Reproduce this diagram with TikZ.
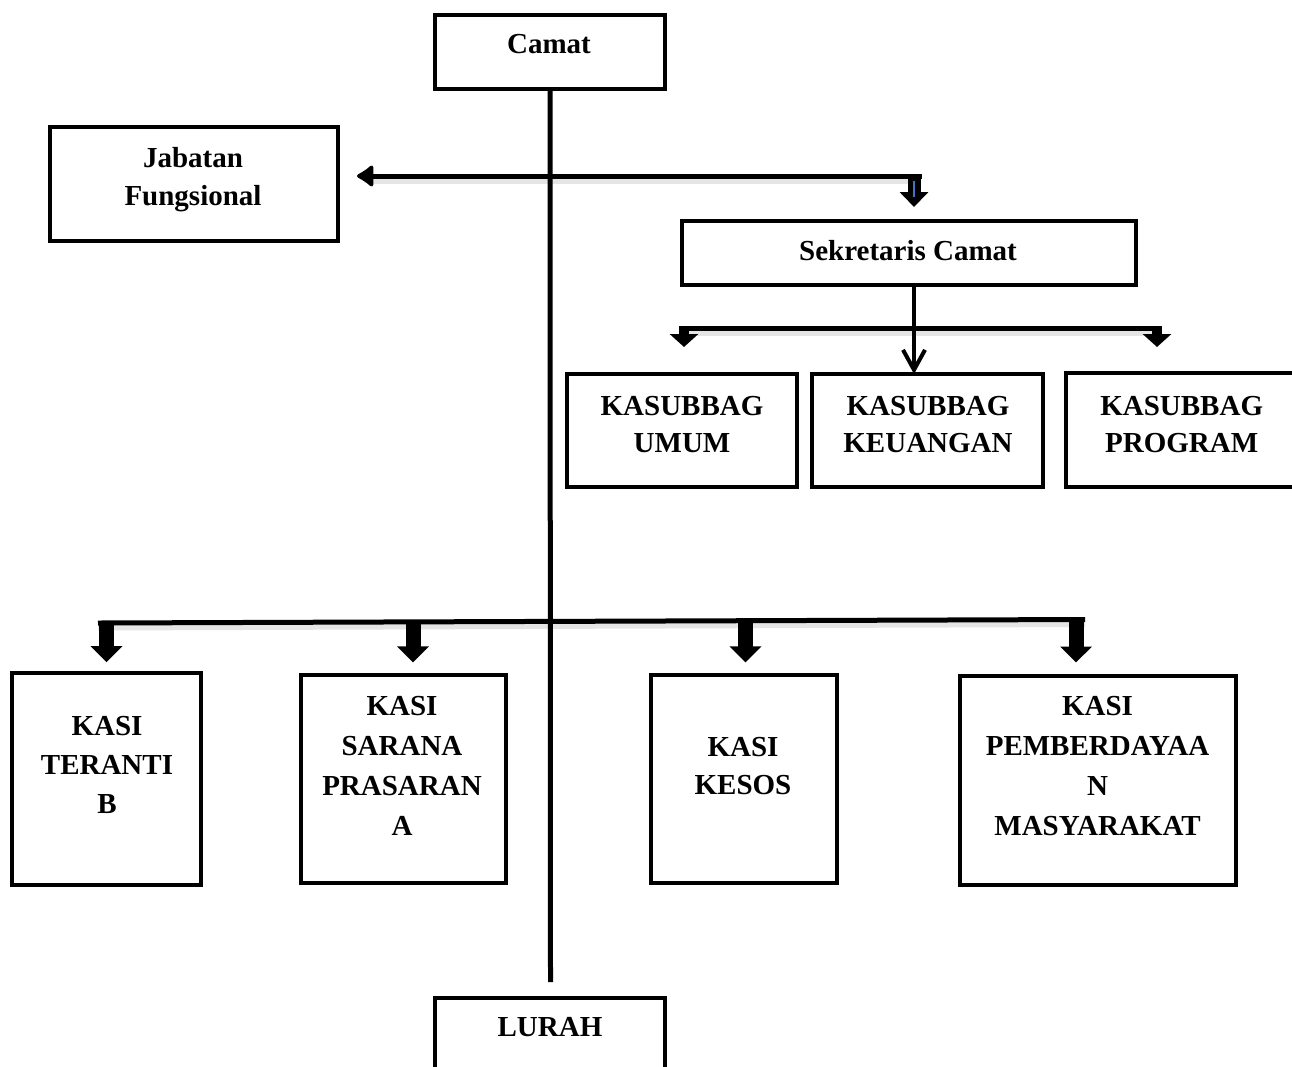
\documentclass[tikz,border=0pt]{standalone}
\usepackage{fontspec}
\setmainfont{Liberation Serif}
\usetikzlibrary{arrows.meta,calc}
\definecolor{accentblue}{RGB}{68,114,196}
\begin{document}
\begin{tikzpicture}[x=1pt,y=-1pt,
  box/.style={draw, line width=4pt, inner sep=0pt, outer sep=0pt},
  lbl/.style={anchor=north, inner sep=0pt, align=center, font=\fontsize{29}{#1}\selectfont\bfseries},
  lbl/.default=38,
  conn/.style={line width=5pt},
  shade/.style={line width=7pt, black!10},
  blockarrow/.style={line width=15pt, -{Triangle[width=31pt,length=16pt]}},
  smallblock/.style={line width=10pt, -{Triangle[width=28pt,length=13pt]}},
]
\useasboundingbox (0,0) rectangle (1292,1066);
\fill[white] (0,0) rectangle (1292,1066);
\clip (0,0) rectangle (1292,1066);

% boxes
\node[box, minimum width=230pt, minimum height=74pt] (camat) at (550,52) {};
\node[box, minimum width=288pt, minimum height=114pt] (jab) at (194,184) {};
\node[box, minimum width=454pt, minimum height=64pt] (sek) at (909,253) {};
\node[box, minimum width=230pt, minimum height=113pt] (umum) at (682,430.5) {};
\node[box, minimum width=231pt, minimum height=113pt] (keu) at (927.5,430.5) {};
\node[box, minimum width=260pt, minimum height=114pt] (prog) at (1196,430) {};
\node[box, minimum width=189pt, minimum height=212pt] (ter) at (106,778.7) {};
\node[box, minimum width=205pt, minimum height=208pt] (sar) at (403,779.3) {};
\node[box, minimum width=186pt, minimum height=208pt] (kes) at (744,779.3) {};
\node[box, minimum width=276pt, minimum height=209pt] (pem) at (1098.3,780) {};
\node[box, minimum width=230pt, minimum height=100pt] (lurah) at (549.7,1048) {};

% labels
\node[lbl] (camatT) at (549,34.1) {Camat};
\node[lbl=38.3] (jabT) at (193,146.9) {Jabatan\\Fungsional};
\node[lbl] (sekT) at (908,240.6) {Sekretaris Camat};
\node[lbl=37] (umumT) at (682,395.8) {KASUBBAG\\UMUM};
\node[lbl=37] (keuT) at (928,395.8) {KASUBBAG\\KEUANGAN};
\node[lbl=37] (progT) at (1181.7,395.8) {KASUBBAG\\PROGRAM};
\node[lbl=38.9] (terT) at (107,715.8) {KASI\\TERANTI\\B};
\node[lbl=40] (sarT) at (402,695.8) {KASI\\SARANA\\PRASARAN\\A};
\node[lbl=37.6] (kesT) at (743,737.5) {KASI\\KESOS};
\node[lbl=40] (pemT) at (1097.5,695.8) {KASI\\PEMBERDAYAA\\N\\MASYARAKAT};
\node[lbl] (lurahT) at (550,1017.5) {LURAH};

% coordinates
\coordinate (jb) at (914,176);
\coordinate (tend) at (550.5,982);
\coordinate (ubL) at (679,328);
\coordinate (ubR) at (1162,328);
\coordinate (ul) at (684,328);
\coordinate (ur) at (1157,328);
\coordinate (bbL) at (98,623);
\coordinate (bbR) at (1085,619.5);

% shadows (below the lines)
\draw[shade] ([yshift=-4pt]jb) -- ([yshift=-4pt]370,176);
\draw[shade] ([yshift=-4pt]ubL) -- ([yshift=-4pt]ubR);
\draw[shade] ([yshift=-4pt]bbL) -- ([yshift=-4pt]bbR);

% trunk
\draw[conn] (camat.south) -- (tend);

% Jabatan Fungsional line
\draw[conn, -{Latex[width=27pt,length=19pt,round]}, shorten >=19pt] ([xshift=8pt]jb) -- (jab.east |- jb);
\draw[line width=13pt, -{Triangle[width=28pt,length=15pt]}, shorten >=14pt] ([yshift=2pt]jb) -- (jb |- sek.north);
\draw[accentblue, line width=1.5pt] ([yshift=-5pt]jb) -- ([yshift=-21pt]jb);

% Sekretaris -> Keuangan
\draw[line width=4pt, -{Straight Barb[width=22pt,length=20pt]}] (sek.south -| jb) -- (jb |- keu.north);

% subbag bus
\draw[conn] (ubL) -- (ubR);
\draw[smallblock, shorten >=27pt] ([yshift=2pt]ul) -- (ul |- umum.north);
\draw[smallblock, shorten >=26pt] ([yshift=2pt]ur) -- (ur |- prog.north);

% kasi bus
\draw[conn] (bbL) -- (bbR);
\draw[blockarrow, shorten >=10.5pt] (106.5,621) -- (106.5,0 |- ter.north);
\draw[blockarrow, shorten >=13pt] (413,621) -- (413,0 |- sar.north);
\draw[blockarrow, shorten >=13pt] (745.5,620) -- (745.5,0 |- kes.north);
\draw[blockarrow, shorten >=13pt] (1076,619) -- (1076,0 |- pem.north);
\end{tikzpicture}
\end{document}
